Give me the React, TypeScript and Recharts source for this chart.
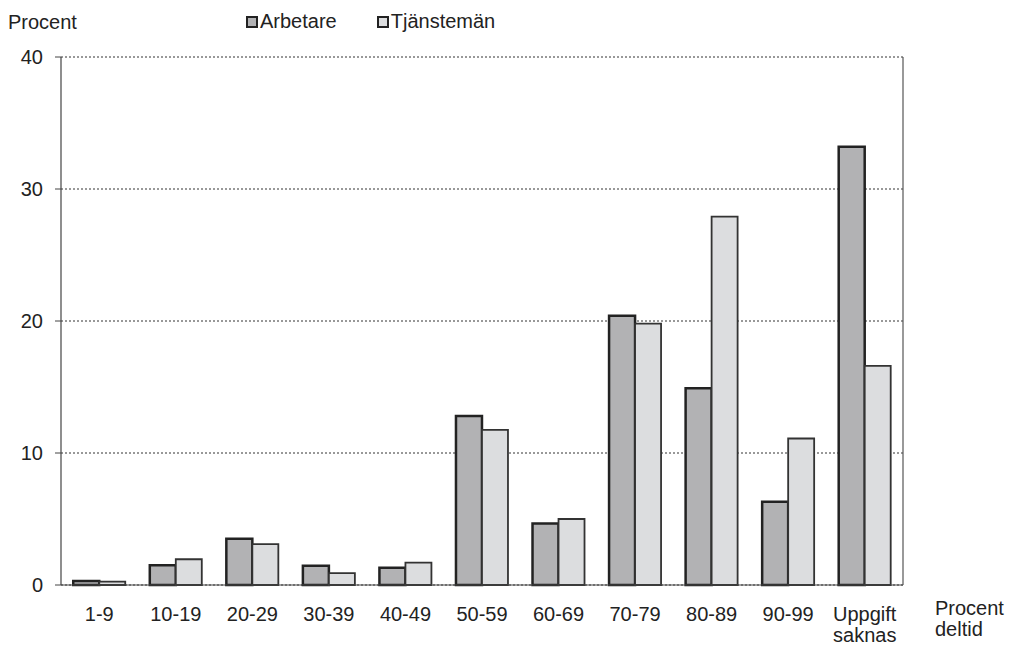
import { Bar, BarChart, CartesianGrid, Legend, XAxis, YAxis } from "recharts";

const categories = ["1-9", "10-19", "20-29", "30-39", "40-49", "50-59", "60-69", "70-79", "80-89", "90-99", "Uppgift\nsaknas"];
const arbetare = [0.3, 1.5, 3.5, 1.45, 1.3, 12.8, 4.65, 20.4, 14.9, 6.3, 33.2];
const tjansteman = [0.25, 1.95, 3.1, 0.9, 1.7, 11.75, 5.0, 19.8, 27.9, 11.1, 16.6];
const yTicks = [0, 10, 20, 30, 40];

const FONT = "'Liberation Sans', Arial, sans-serif";
const FS = 20;
const A_FILL = "#b2b2b4";
const T_FILL = "#dcdddf";

const data = categories.map((c, i) => ({ cat: c, a: arbetare[i], t: tjansteman[i] }));

function XTick({ x, y, payload }: any) {
  const lines = String(payload.value).split("\n");
  return (
    <text x={x} y={y} textAnchor="middle" fill="#222" fontSize={FS} fontFamily={FONT}>
      {lines.map((l, i) => (
        <tspan key={i} x={x} dy={i === 0 ? 28 : 21}>
          {l}
        </tspan>
      ))}
    </text>
  );
}

function LegendBox({ payload }: any) {
  return (
    <div style={{ display: "flex", fontFamily: FONT, fontSize: FS, color: "#222", lineHeight: "21px" }}>
      {(payload || []).map((p: any) => (
        <div key={p.value} style={{ display: "flex", alignItems: "center", marginRight: 40 }}>
          <span
            style={{
              display: "inline-block",
              width: 8,
              height: 8,
              border: "2px solid #222",
              background: p.color,
              marginRight: 2,
            }}
          />
          {p.value}
        </div>
      ))}
    </div>
  );
}

export default function App() {
  return (
    <div style={{ position: "absolute", left: 0, top: 0, width: 1011, height: 647, background: "#fff" }}>
      <BarChart
        width={1011}
        height={647}
        data={data}
        margin={{ top: 36, right: 107, left: 0, bottom: 0 }}
        barCategoryGap="16%"
        barGap={0}
      >
        <CartesianGrid vertical={false} stroke="#333" strokeDasharray="2 2" yAxisId="left" />
        <XAxis
          dataKey="cat"
          interval={0}
          height={62}
          tickLine={false}
          axisLine={{ stroke: "#444", strokeWidth: 1.2 }}
          tick={<XTick />}
        />
        <YAxis
          yAxisId="left"
          width={61}
          domain={[0, 40]}
          ticks={yTicks}
          tickSize={6}
          tickMargin={12}
          axisLine={{ stroke: "#444", strokeWidth: 1.2 }}
          tickLine={{ stroke: "#444" }}
          tick={{ fill: "#222", fontSize: FS, fontFamily: FONT }}
        />
        <YAxis
          yAxisId="right"
          orientation="right"
          width={1}
          domain={[0, 40]}
          tick={false}
          tickLine={false}
          axisLine={{ stroke: "#555", strokeWidth: 1.2 }}
        />
        <Legend
          verticalAlign="top"
          content={<LegendBox />}
          wrapperStyle={{ top: 11, left: 246, width: "auto" }}
        />
        <Bar yAxisId="left" dataKey="a" name="Arbetare" fill={A_FILL} stroke="#222" strokeWidth={2.5} isAnimationActive={false} />
        <Bar yAxisId="left" dataKey="t" name="Tjänstemän" fill={T_FILL} stroke="#333" strokeWidth={1.8} isAnimationActive={false} />
      </BarChart>
      <div style={{ position: "absolute", left: 8, top: 11, fontFamily: FONT, fontSize: FS, color: "#222" }}>Procent</div>
      <div style={{ position: "absolute", left: 935, top: 598, fontFamily: FONT, fontSize: FS, color: "#222", lineHeight: "21px" }}>
        Procent
        <br />
        deltid
      </div>
    </div>
  );
}
